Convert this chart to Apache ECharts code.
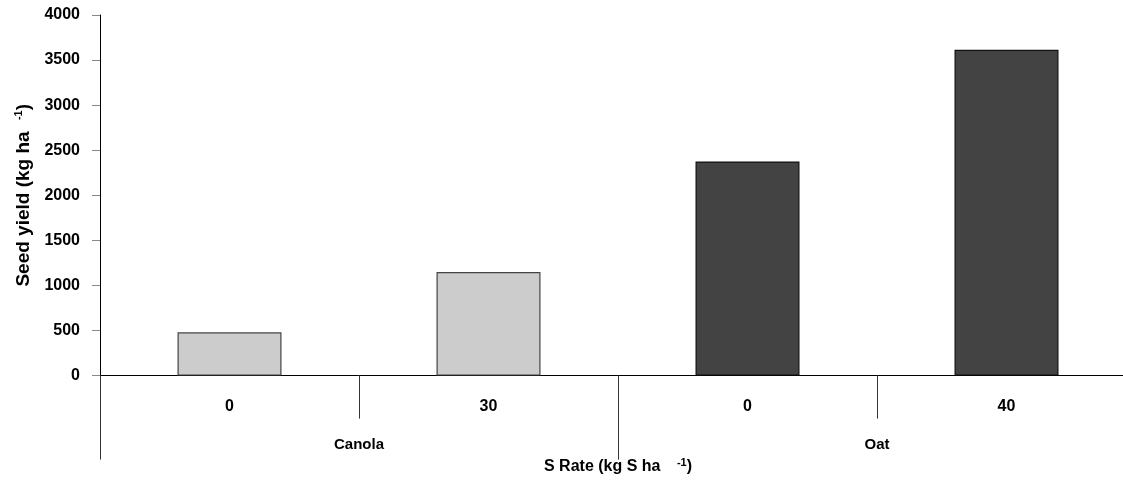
<!DOCTYPE html>
<html>
<head>
<meta charset="utf-8">
<script src="https://cdn.jsdelivr.net/npm/echarts@6/dist/echarts.min.js"></script>
<style>html,body{margin:0;padding:0;background:#fff;overflow:hidden;width:1123px;height:480px;}#c{width:1136px;height:480px;}</style>
</head>
<body>
<div id="c"></div>
<script>
const rateLabels = ['0', '30', '0', '40'];
const cropGroups = ['Canola', 'Oat'];
const barCrop = ['Canola', 'Canola', 'Oat', 'Oat'];
const seedYield = [480, 1150, 2375, 3615];
const yTicks = { min: 0, max: 4000, interval: 500 };
const cropColors = { Canola: '#CCCCCC', Oat: '#434343' };
const cropBorders = { Canola: '#444444', Oat: '#111111' };

const chart = echarts.init(document.getElementById('c'));
const font = "'Liberation Sans', Arial, sans-serif";

chart.setOption({
  animation: false,
  backgroundColor: '#ffffff',
  grid: { left: 100, top: 15, right: 0, height: 361 },
  xAxis: [
    {
      type: 'category', position: 'bottom', data: rateLabels,
      axisLine: { show: true, lineStyle: { color: '#000', width: 1 } },
      axisTick: { show: true, interval: 0, alignWithLabel: false, length: 43, lineStyle: { color: '#333' } },
      axisLabel: { interval: 0, margin: 23, fontFamily: font, fontWeight: 'bold', fontSize: 16, color: '#000' },
      splitLine: { show: false }
    },
    {
      type: 'category', position: 'bottom', data: cropGroups, offset: 0,
      axisLine: { show: false },
      axisTick: { show: true, interval: 0, alignWithLabel: false, length: 84, lineStyle: { color: '#333' } },
      axisLabel: { interval: 0, margin: 62, fontFamily: font, fontWeight: 'bold', fontSize: 15, color: '#000' },
      splitLine: { show: false },
      name: 'S Rate (kg S ha {sup|-1})',
      nameLocation: 'middle',
      nameGap: 81,
      nameTextStyle: {
        fontFamily: font, fontWeight: 'bold', fontSize: 16, color: '#000',
        rich: { sup: { fontFamily: font, fontWeight: 'bold', fontSize: 11, color: '#000', verticalAlign: 'top', padding: [0, 0, 8, 12] } }
      }
    }
  ],
  yAxis: {
    type: 'value', min: yTicks.min, max: yTicks.max, interval: yTicks.interval,
    axisLine: { show: true, lineStyle: { color: '#000', width: 1 } },
    axisTick: { show: true, length: 8, lineStyle: { color: '#888' } },
    axisLabel: { margin: 20, formatter: v => String(v), fontFamily: font, fontWeight: 'bold', fontSize: 16, color: '#000' },
    splitLine: { show: false },
    name: 'Seed yield (kg ha {sup|-1})',
    nameLocation: 'middle',
    nameGap: 63,
    nameTextStyle: {
      fontFamily: font, fontWeight: 'bold', fontSize: 19, color: '#000',
      rich: { sup: { fontFamily: font, fontWeight: 'bold', fontSize: 11, color: '#000', verticalAlign: 'top', padding: [0, 0, 10, 6] } }
    }
  },
  series: [{
    type: 'bar',
    xAxisIndex: 0,
    barWidth: 104,
    data: seedYield.map((v, i) => ({
      value: v,
      itemStyle: { color: cropColors[barCrop[i]], borderColor: cropBorders[barCrop[i]], borderWidth: 1.2 }
    }))
  }]
});
</script>
</body>
</html>
